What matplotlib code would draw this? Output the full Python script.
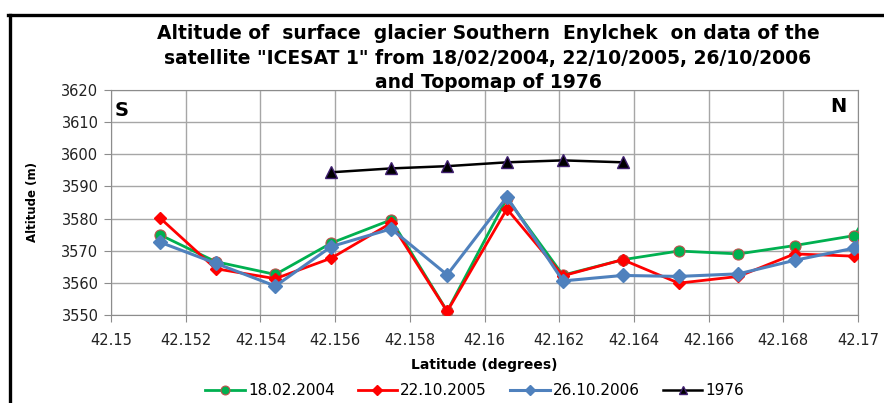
import matplotlib.pyplot as plt
from matplotlib.lines import Line2D

# latitude of the ICESAT footprints (degrees)
lat = [42.1513, 42.1528, 42.1544, 42.1559, 42.1575, 42.1590, 42.1606,
       42.1621, 42.1637, 42.1652, 42.1668, 42.1683, 42.1699, 42.1714]
alt_2004 = [3575.0, 3566.6, 3562.6, 3572.4, 3579.6, 3551.2, 3586.3,
            3562.4, 3567.2, 3569.9, 3569.0, 3571.6, 3574.7, 3603.0]
alt_2005 = [3580.3, 3564.4, 3561.3, 3567.7, 3578.6, 3551.1, 3583.0,
            3562.2, 3567.2, 3559.9, 3562.0, 3569.0, 3568.3]
alt_2006 = [3572.7, 3566.1, 3559.0, 3571.3, 3576.8, 3562.5, 3586.7,
            3560.6, 3562.3, 3562.0, 3562.8, 3567.0, 3570.8, 3601.0]
# topomap 1976
lat_1976 = [42.1559, 42.1575, 42.1590, 42.1606, 42.1621, 42.1637]
alt_1976 = [3594.4, 3595.6, 3596.3, 3597.5, 3598.1, 3597.5]

xticks = [42.15 + 0.002 * i for i in range(11)]
xlabels = ["42.15", "42.152", "42.154", "42.156", "42.158", "42.16",
           "42.162", "42.164", "42.166", "42.168", "42.17"]
yticks = [3550, 3560, 3570, 3580, 3590, 3600, 3610, 3620]

fig = plt.figure(figsize=(8.84, 4.03), dpi=100)
ax = fig.add_axes([0.1256, 0.2184, 0.845, 0.5583])

ax.plot(lat, alt_2004, color='#00B050', lw=2, marker='o', ms=8,
        mfc='#00B050', mec='#C0504D', mew=0.8, label='18.02.2004', zorder=3)
ax.plot(lat[:13], alt_2005, color='#FF0000', lw=2, marker='D', ms=6,
        mfc='#FF0000', mec='#FF0000', label='22.10.2005', zorder=4)
ax.plot(lat, alt_2006, color='#4F81BD', lw=2.2, marker='D', ms=7,
        mfc='#4F81BD', mec='#4F81BD', label='26.10.2006', zorder=5)
ax.plot(lat_1976, alt_1976, color='black', lw=1.8, marker='^', ms=8,
        mfc='black', mec='#3F1F6F', label='1976', zorder=6)

ax.set_xlim(42.15, 42.17)
ax.set_ylim(3550, 3620)
ax.set_xticks(xticks)
ax.set_xticklabels(xlabels)
ax.set_yticks(yticks)
ax.tick_params(axis='both', direction='out', length=5, color='#8c8c8c',
               labelsize=10.5, labelcolor='#222222', pad=4)
ax.tick_params(axis='x', pad=8)
ax.grid(True, color='#a6a6a6', lw=1)
ax.set_axisbelow(True)
for s in ax.spines.values():
    s.set_color('#8c8c8c')

ax.set_xlabel("Latitude (degrees)", fontsize=10, fontweight='bold', labelpad=7)
ax.set_ylabel("Altitude (m)", fontsize=8.5, fontweight='bold', labelpad=16)

ax.text(0.005, 0.95, "S", transform=ax.transAxes, fontsize=14,
        fontweight='bold', va='top', ha='left')
ax.text(0.985, 0.97, "N", transform=ax.transAxes, fontsize=14,
        fontweight='bold', va='top', ha='right')

fig.text(0.552, 0.856,
         'Altitude of  surface  glacier Southern  Enylchek  on data of the\n'
         'satellite "ICESAT 1" from 18/02/2004, 22/10/2005, 26/10/2006\n'
         'and Topomap of 1976',
         ha='center', va='center', fontsize=13.5, fontweight='bold',
         linespacing=1.37)

fig.legend(loc='center', bbox_to_anchor=(0.537, 0.03), ncol=4, frameon=False,
           fontsize=11, handlelength=2.6, handletextpad=0.2,
           columnspacing=1.5, markerscale=0.8)

# outer chart frame (top and left edges visible)
fig.add_artist(Line2D([8 / 884, 1], [1 - 14.5 / 403] * 2, color='black',
                      lw=2.4, transform=fig.transFigure))
fig.add_artist(Line2D([9.5 / 884] * 2, [0, 1 - 14.5 / 403], color='black',
                      lw=2.4, transform=fig.transFigure))

fig.savefig("out.png", dpi=100)
plt.close()
